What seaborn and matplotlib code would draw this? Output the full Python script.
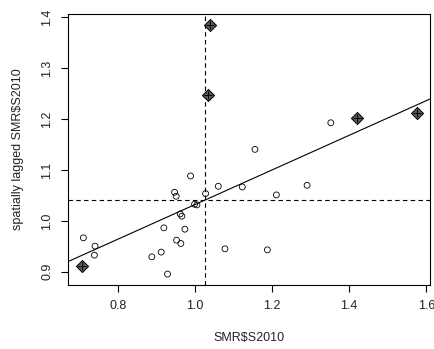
import matplotlib
matplotlib.use("Agg")
import matplotlib.pyplot as plt
import seaborn as sns
import numpy as np
import pandas as pd

# regular points
smr = [0.7108, 0.7411, 0.7394, 0.8883, 0.9126, 0.9195, 0.9290, 0.9524, 0.9636, 0.9740,
       0.9472, 0.9515, 0.9619, 0.9662, 0.9887, 0.9991, 1.0052, 1.0277, 1.0606, 1.0779,
       1.1229, 1.1558, 1.1879, 1.2113, 1.2909, 1.3524]
lag = [0.9667, 0.9503, 0.9327, 0.9294, 0.9386, 0.9863, 0.8954, 0.9621, 0.9556, 0.9837,
       1.0562, 1.0484, 1.0137, 1.0092, 1.0882, 1.0327, 1.0314, 1.0536, 1.0680, 0.9451,
       1.0667, 1.1405, 0.9431, 1.0510, 1.0699, 1.1928]
# influential points
smr_inf = [1.0380, 1.0338, 1.4208, 1.5766, 0.7065]
lag_inf = [1.3856, 1.2477, 1.2020, 1.2110, 0.9111]

xticks = [0.8, 1.0, 1.2, 1.4, 1.6]
yticks = [0.9, 1.0, 1.1, 1.2, 1.3, 1.4]

sns.set_style("white")
plt.rcParams['font.family'] = ['Liberation Sans', 'DejaVu Sans']

df = pd.DataFrame({"x": smr + smr_inf, "y": lag + lag_inf})
dfr = pd.DataFrame({"x": smr, "y": lag})
dfi = pd.DataFrame({"x": smr_inf, "y": lag_inf})

fig = plt.figure(figsize=(4.34, 3.49), dpi=100)
ax = fig.add_axes([68.3/434, 1-285/349, (430-68.3)/434, (285-14)/349])

ax.set_xlim(0.6717, 1.6096)
ax.set_ylim(0.874, 1.4065)

sns.scatterplot(data=dfr, x="x", y="y", ax=ax, marker="o", s=18,
                facecolor="none", edgecolor="black", linewidth=0.6, zorder=3)
sns.scatterplot(data=dfi, x="x", y="y", ax=ax, marker="D", s=38,
                color="#5a5a5a", edgecolor="black", linewidth=0.7, zorder=4)
sns.scatterplot(data=dfi, x="x", y="y", ax=ax, marker="+", s=30,
                color="black", linewidth=0.7, zorder=5)
sns.regplot(data=df, x="x", y="y", ax=ax, scatter=False, ci=None, truncate=False,
            line_kws=dict(color="black", linewidth=0.8))

ax.axvline(np.mean(df["x"]), color="black", linestyle=(0, (4, 3)), linewidth=0.8)
ax.axhline(np.mean(df["y"]), color="black", linestyle=(0, (4, 3)), linewidth=0.8)

ax.set_xlim(0.6717, 1.6096)
ax.set_ylim(0.874, 1.4065)
ax.set_xticks(xticks)
ax.set_xticklabels([f"{v:.1f}" for v in xticks])
ax.set_yticks(yticks)
ax.set_yticklabels([f"{v:.1f}" for v in yticks], rotation=90, va="center")
ax.tick_params(axis="both", direction="out", length=5, width=0.8, labelsize=9,
               bottom=True, left=True, colors="black", pad=6)
for tl in ax.get_xticklabels() + ax.get_yticklabels():
    tl.set_color("#222222")
for sp in ax.spines.values():
    sp.set_visible(True)
    sp.set_color("black")
    sp.set_linewidth(0.8)
ax.set_xlabel("SMR$S2010", fontsize=9, labelpad=14, color="#222222")
ax.set_ylabel("spatially lagged SMR$S2010", fontsize=9, labelpad=12, color="#222222")

fig.savefig("out.png", dpi=100)
